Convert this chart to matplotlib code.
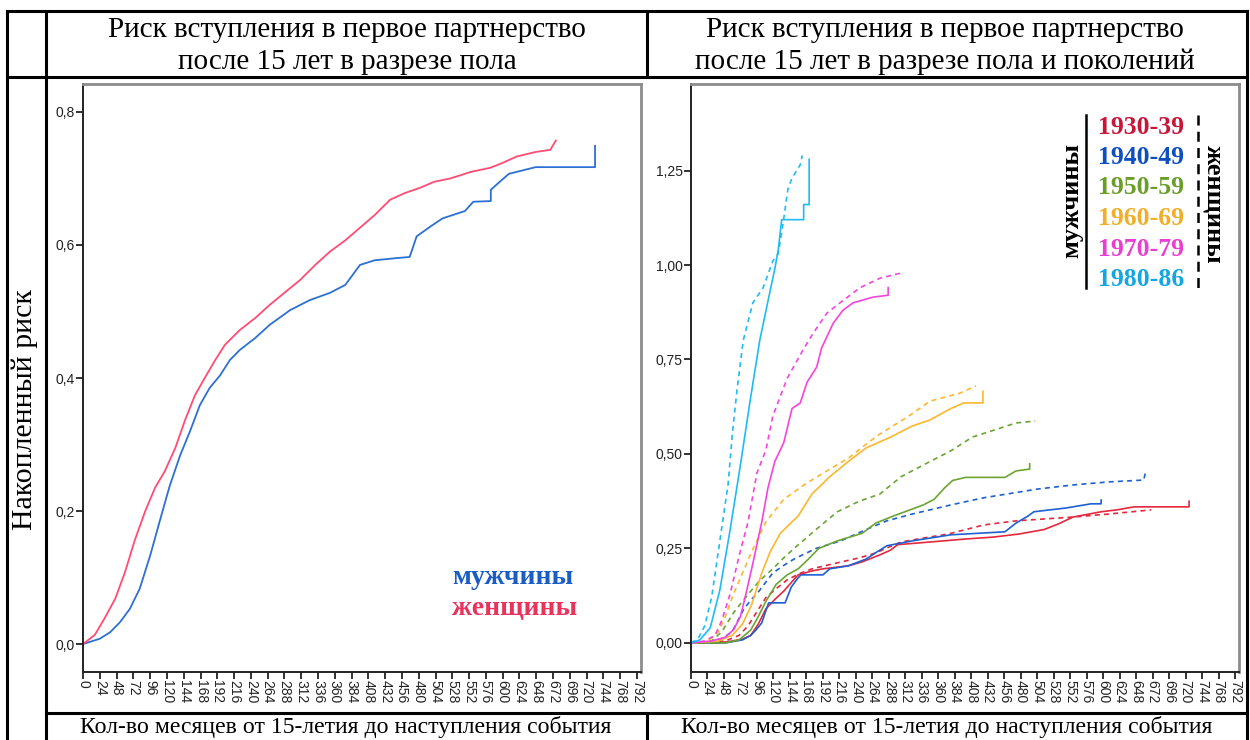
import matplotlib
matplotlib.use("Agg")
import matplotlib.pyplot as plt

# ---- data (months since age 15, cumulative risk) ----
men_m = [0, 24, 39, 53, 67, 81, 96, 110, 124, 139, 153, 167, 181, 196, 210, 224, 246, 267, 296,
         324, 353, 375, 396, 417, 446, 467, 477, 497, 514, 546, 558, 583, 583, 599, 609, 647, 732, 732]
men_r = [0, 0.008, 0.018, 0.033, 0.053, 0.083, 0.133, 0.186, 0.238, 0.284, 0.32, 0.359, 0.385, 0.404,
         0.427, 0.442, 0.46, 0.48, 0.502, 0.517, 0.528, 0.54, 0.57, 0.577, 0.58, 0.582, 0.613, 0.628,
         0.64, 0.651, 0.665, 0.666, 0.683, 0.698, 0.707, 0.717, 0.717, 0.749]
women_m = [0, 17, 31, 46, 60, 74, 89, 103, 117, 132, 146, 160, 174, 189, 203, 224, 246, 267, 289,
           310, 332, 353, 375, 396, 417, 439, 460, 482, 502, 525, 555, 582, 599, 620, 648, 668, 676]
women_r = [0, 0.014, 0.039, 0.068, 0.108, 0.156, 0.2, 0.235, 0.26, 0.295, 0.337, 0.374, 0.4, 0.427,
           0.45, 0.472, 0.49, 0.51, 0.529, 0.547, 0.57, 0.59, 0.607, 0.626, 0.645, 0.668, 0.678,
           0.686, 0.695, 0.70, 0.71, 0.716, 0.723, 0.733, 0.74, 0.743, 0.757]

cohorts = ["1930-39", "1940-49", "1950-59", "1960-69", "1970-79", "1980-86"]
line_colors = ["#E4283E", "#1E60D2", "#6CA533", "#FDB72C", "#F544DE", "#1EBBF4"]
text_colors = ["#C8163A", "#0F4FC0", "#6A9E2A", "#F0AE2A", "#E83FD2", "#16A6E0"]

# men (solid)
c_men_m = [
    [0, 40, 60, 75, 87, 98, 109, 122, 135, 146, 156, 175, 192, 229, 250, 275, 290, 301, 348, 400,
     440, 477, 514, 535, 556, 597, 620, 645, 725, 725],
    [0, 50, 75, 87, 95, 103, 108, 113, 137, 146, 155, 160, 192, 202, 229, 255, 270, 285, 322, 378,
     457, 473, 490, 499, 546, 582, 597, 597],
    [0, 50, 70, 87, 98, 109, 124, 140, 156, 170, 186, 213, 249, 269, 295, 338, 354, 369, 381, 400,
     457, 473, 493, 493],
    [0, 40, 60, 75, 88, 103, 115, 130, 156, 176, 202, 229, 255, 291, 322, 348, 378, 397, 425, 425],
    [0, 30, 50, 62, 72, 80, 90, 103, 112, 122, 135, 147, 159, 169, 183, 190, 207, 221, 236, 265,
     287, 287],
    [0, 13, 28, 42, 57, 71, 86, 100, 115, 122, 127, 132, 164, 164, 172, 172],
]
c_men_r = [
    [0, 0, 0.005, 0.01, 0.02, 0.05, 0.09, 0.115, 0.137, 0.16, 0.18, 0.19, 0.196, 0.204, 0.215,
     0.233, 0.245, 0.26, 0.267, 0.275, 0.28, 0.288, 0.30, 0.315, 0.333, 0.347, 0.352, 0.36, 0.36, 0.375],
    [0, 0, 0.008, 0.02, 0.035, 0.053, 0.08, 0.106, 0.106, 0.148, 0.17, 0.18, 0.18, 0.196, 0.204,
     0.222, 0.24, 0.257, 0.27, 0.286, 0.294, 0.317, 0.335, 0.347, 0.357, 0.368, 0.368, 0.378],
    [0, 0, 0.008, 0.034, 0.07, 0.11, 0.155, 0.18, 0.196, 0.22, 0.25, 0.27, 0.29, 0.317, 0.336,
     0.365, 0.38, 0.41, 0.43, 0.438, 0.438, 0.455, 0.46, 0.474],
    [0, 0.005, 0.02, 0.05, 0.10, 0.185, 0.24, 0.29, 0.336, 0.394, 0.44, 0.48, 0.516, 0.545, 0.574,
     0.59, 0.62, 0.635, 0.635, 0.666],
    [0, 0.005, 0.015, 0.035, 0.07, 0.13, 0.21, 0.32, 0.41, 0.48, 0.53, 0.62, 0.635, 0.69, 0.73,
     0.78, 0.846, 0.88, 0.90, 0.915, 0.92, 0.94],
    [0, 0.008, 0.04, 0.14, 0.30, 0.46, 0.64, 0.80, 0.93, 0.99, 1.04, 1.12, 1.12, 1.16, 1.16, 1.28],
]
# women (dashed)
c_wom_m = [
    [0, 50, 70, 83, 95, 109, 125, 140, 160, 176, 218, 245, 269, 290, 306, 340, 374, 400, 426, 473,
     556, 608, 670],
    [0, 40, 60, 77, 88, 99, 119, 135, 150, 182, 218, 255, 285, 322, 378, 426, 470, 504, 556, 608,
     659, 662],
    [0, 30, 45, 62, 75, 87, 100, 119, 135, 150, 182, 213, 245, 275, 306, 348, 378, 410, 441, 473, 501],
    [0, 25, 40, 50, 62, 75, 88, 109, 135, 166, 202, 230, 255, 275, 317, 348, 390, 415],
    [0, 20, 35, 45, 57, 70, 83, 96, 109, 119, 140, 163, 178, 198, 217, 246, 275, 304],
    [0, 10, 20, 30, 38, 46, 54, 60, 67, 76, 90, 105, 119, 127, 134, 141, 147, 159, 162],
]
c_wom_r = [
    [0, 0.005, 0.02, 0.045, 0.08, 0.12, 0.145, 0.167, 0.185, 0.196, 0.214, 0.225, 0.238, 0.255,
     0.267, 0.278, 0.288, 0.30, 0.312, 0.323, 0.333, 0.341, 0.352],
    [0, 0.005, 0.03, 0.09, 0.115, 0.137, 0.185, 0.205, 0.222, 0.25, 0.27, 0.30, 0.323, 0.341,
     0.365, 0.384, 0.397, 0.407, 0.418, 0.426, 0.431, 0.455],
    [0, 0.005, 0.03, 0.08, 0.11, 0.137, 0.165, 0.196, 0.225, 0.25, 0.30, 0.347, 0.375, 0.394,
     0.44, 0.48, 0.508, 0.545, 0.563, 0.582, 0.587],
    [0, 0.005, 0.03, 0.07, 0.13, 0.185, 0.24, 0.32, 0.38, 0.42, 0.46, 0.49, 0.526, 0.553, 0.60,
     0.64, 0.66, 0.68],
    [0, 0.005, 0.02, 0.06, 0.13, 0.23, 0.32, 0.45, 0.51, 0.60, 0.70, 0.775, 0.82, 0.873, 0.90,
     0.94, 0.965, 0.978],
    [0, 0.01, 0.045, 0.12, 0.22, 0.32, 0.42, 0.55, 0.67, 0.80, 0.90, 0.94, 1.01, 1.03, 1.11, 1.20,
     1.23, 1.265, 1.29],
]

x_ticks = list(range(0, 793, 24))
left_yticks = [0.0, 0.2, 0.4, 0.6, 0.8]
right_yticks = [0.0, 0.25, 0.5, 0.75, 1.0, 1.25]

title_left = ["Риск вступления в первое партнерство", "после 15 лет в разрезе пола"]
title_right = ["Риск вступления в первое партнерство", "после 15 лет в разрезе пола и поколений"]
xlabel = "Кол-во месяцев от 15-летия до наступления события"
ylabel = "Накопленный риск"

W, H = 1250, 740
serif = "Liberation Serif"
sans = "Liberation Sans"

fig = plt.figure(figsize=(W / 100, H / 100), dpi=100)


def make_axes(x0, x1, y0, y1, ylim, yticks, yfmt):
    ax = fig.add_axes([x0 / W, 1 - y1 / H, (x1 - x0) / W, (y1 - y0) / H])
    ax.patch.set_visible(False)
    ax.set_xlim(0, 797.7)
    ax.set_ylim(*ylim)
    ax.set_xticks(x_ticks)
    ax.set_xticklabels([str(t) for t in x_ticks], rotation=270, fontsize=10, family=sans,
                       color="#222222")
    ax.set_yticks(yticks)
    ax.set_yticklabels([yfmt.format(t).replace(".", ",") for t in yticks], fontsize=10,
                       family=sans, color="#222222")
    ax.tick_params(direction="out", length=5, width=1.3, pad=1, colors="#222222")
    for s in ["top", "right"]:
        ax.spines[s].set_color("#8c8c8c")
        ax.spines[s].set_linewidth(2)
    for s in ["left", "bottom"]:
        ax.spines[s].set_color("#222222")
        ax.spines[s].set_linewidth(1.4)
    return ax


# left chart
ax1 = make_axes(83, 641, 84, 672, (-0.042, 0.842), left_yticks, "{:.1f}")
ax1.plot(men_m, men_r, color="#2C70D4", lw=1.3)
ax1.plot(women_m, women_r, color="#FF4C72", lw=1.3)

# right chart
ax2 = make_axes(691, 1239, 84, 672, (-0.077, 1.479), right_yticks, "{:.2f}")
for i in range(len(cohorts)):
    ax2.plot(c_men_m[i], c_men_r[i], color=line_colors[i], lw=1.2)
    ax2.plot(c_wom_m[i], c_wom_r[i], color=line_colors[i], lw=1.2, dashes=(3, 2.5))

# table grid and texts drawn in pixel coordinates on top
bg = fig.add_axes([0, 0, 1, 1])
bg.patch.set_visible(False)
bg.set_xlim(0, W)
bg.set_ylim(H, 0)
bg.axis("off")
tl = dict(color="black", lw=2.2, solid_capstyle="projecting")
bg.plot([7, 1247], [11, 11], **tl)
bg.plot([7, 1247], [77, 77], **tl)
bg.plot([46, 1247], [713, 713], **tl)
bg.plot([7, 7], [11, H], **tl)
bg.plot([46, 46], [11, H], **tl)
bg.plot([1247, 1247], [11, H], **tl)
bg.plot([647, 647], [11, 77], **tl)
bg.plot([647, 647], [713, H], **tl)

for k, y in enumerate([30, 62]):
    bg.text(347, y, title_left[k], ha="center", va="center", fontsize=21, family=serif)
    bg.text(945, y, title_right[k], ha="center", va="center", fontsize=21, family=serif)
bg.text(346, 727, xlabel, ha="center", va="center", fontsize=17.1, family=serif)
bg.text(947, 727, xlabel, ha="center", va="center", fontsize=17.1, family=serif)
bg.text(25, 410, ylabel, ha="center", va="center", rotation=90, fontsize=21.5, family=serif)

# legend of the left chart
bg.text(452, 578, "мужчины", ha="left", va="center", fontsize=20, family=serif,
        fontweight="bold", color="#1A5DC4")
bg.text(452, 608, "женщины", ha="left", va="center", fontsize=20, family=serif,
        fontweight="bold", color="#E8335F")

# legend block of the right chart
bg.plot([1086, 1086], [115, 288], color="black", lw=1.8)
bg.plot([1198, 1198], [115, 288], color="black", lw=1.8, dashes=(4, 2.5))
for i, c in enumerate(cohorts):
    bg.text(1141, 127 + i * 30.5, c, ha="center", va="center", fontsize=18.5, family=serif,
            fontweight="bold", color=text_colors[i])
bg.text(1072, 200, "мужчины", ha="center", va="center", rotation=90, fontsize=19, family=serif,
        fontweight="bold")
bg.text(1214, 204, "женщины", ha="center", va="center", rotation=270, fontsize=19, family=serif,
        fontweight="bold")

fig.savefig("out.png", dpi=100)
